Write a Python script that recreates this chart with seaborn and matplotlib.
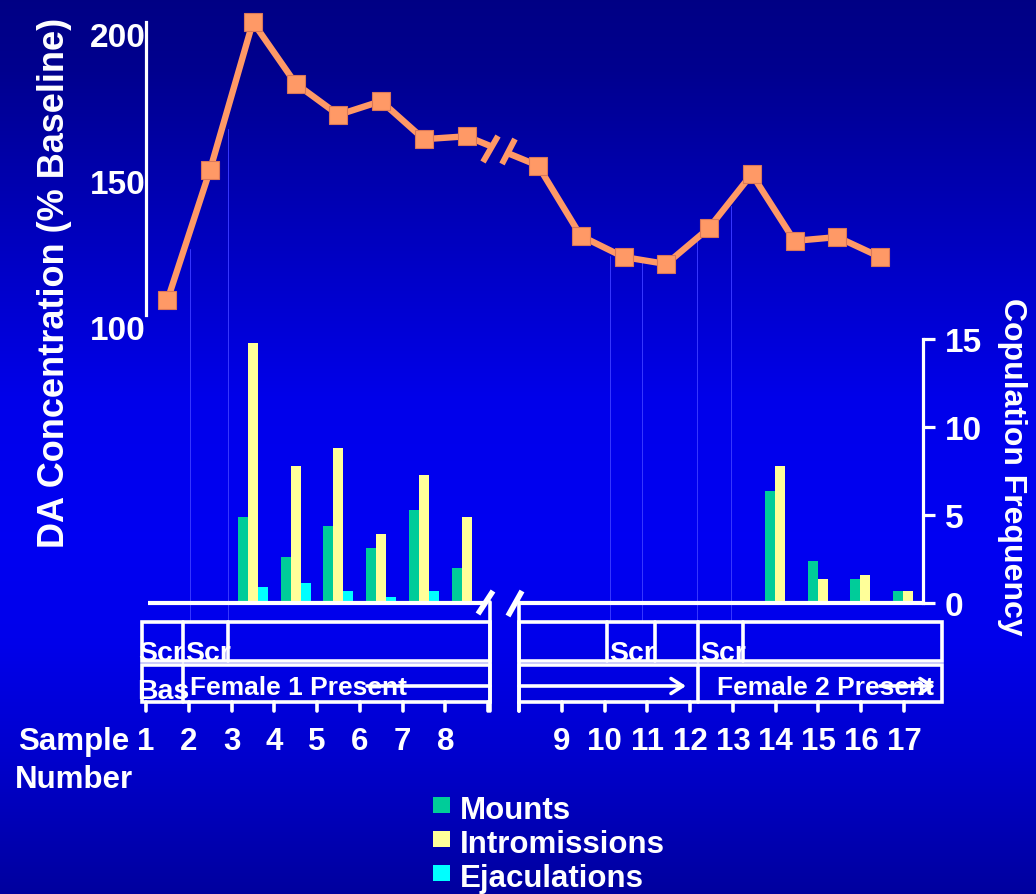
import numpy as np
import matplotlib
matplotlib.use("Agg")
import matplotlib.pyplot as plt
from matplotlib.patches import Rectangle
import seaborn as sns

# -------------------------------------------------------
# Data
# -------------------------------------------------------
samples = list(range(1, 18))
da_pct = [105, 149.6, 200, 179, 168.3, 173, 160, 161, 151, 127, 119.8,
          117.4, 129.7, 148.1, 125.3, 126.6, 119.8]
mounts = [0, 0, 4.9, 2.6, 4.4, 3.1, 5.3, 2.0, 0, 0, 0, 0, 0, 6.35, 2.4, 1.35, 0.7]
intromissions = [0, 0, 14.8, 7.8, 8.8, 3.9, 7.3, 4.9, 0, 0, 0, 0, 0, 7.8, 1.35, 1.6, 0.7]
ejaculations = [0, 0, 0.9, 1.15, 0.7, 0.35, 0.7, 0.1, 0, 0, 0, 0, 0, 0.1, 0, 0, 0]
series_names = ["Mounts", "Intromissions", "Ejaculations"]
series_colors = ["#00CC99", "#FFFF99", "#00FFFF"]
da_ticks = [100, 150, 200]
cop_ticks = [0, 5, 10, 15]

# -------------------------------------------------------
# Layout helpers
# -------------------------------------------------------
W, H = 1036, 895
X0, DX = 146, 42.75               # pixel of x=0, pixels per sample
U0, U1 = -X0 / DX, (W - X0) / DX
GAP = 0.67                        # axis break after sample 8
BAR_SHIFT_R = 0.66                # right-hand bars sit half a step later
TICK_GAP = 0.73


def upx(u):
    return X0 + DX * u


pt_pos = [s - 0.5 + (GAP if s >= 9 else 0) for s in samples]
bar_pos = [p + (BAR_SHIFT_R if s >= 9 else 0) for s, p in zip(samples, pt_pos)]
tick_u = list(range(0, 9)) + [j + TICK_GAP for j in range(8, 18)]
label_u = [s - 1 if s <= 8 else s + TICK_GAP for s in samples]

sns.set_theme(style="white")
plt.rcParams["font.family"] = ["Liberation Sans", "DejaVu Sans"]
plt.rcParams["font.weight"] = "bold"
WHITE = "white"
FS = 22.5
TFS = 24

fig = plt.figure(figsize=(W / 100, H / 100), dpi=100)

# -------------------------------------------------------
# Background gradient
# -------------------------------------------------------
bg = fig.add_axes([0, 0, 1, 1], zorder=0)
bg.set_xlim(0, W)
bg.set_ylim(H, 0)
bg.axis("off")
stops_y = [0, 0.08, 0.3, 0.45, 0.6, 0.72, 0.85, 1.0]
stops_b = [0.52, 0.56, 0.78, 0.92, 0.95, 0.92, 0.8, 0.62]


def bg_colour(ypix):
    return (0, 0, float(np.interp(ypix / H, stops_y, stops_b)))


grad = np.zeros((H, 1, 3))
grad[:, 0, 2] = np.interp(np.linspace(0, 1, H), stops_y, stops_b)
bg.imshow(grad, extent=(0, W, H, 0), aspect="auto", interpolation="bilinear")

# faint divider lines left over from the slide
for x, ytop in [(190, 250), (228, 130), (610, 257), (642, 263), (697, 240), (731, 207)]:
    bg.plot([x, x], [ytop, 623], color=(0.22, 0.22, 1.0), lw=0.7)

# -------------------------------------------------------
# DA concentration line
# -------------------------------------------------------
ax_da = fig.add_axes([0, 1 - 316 / H, 1, 293 / H], zorder=2)
ax_da.patch.set_alpha(0)
sns.lineplot(x=pt_pos, y=da_pct, ax=ax_da, color="#FF9966", lw=4.6,
             marker="s", markersize=13.5, markeredgecolor="#D9775A",
             markeredgewidth=0.8, clip_on=False)
ax_da.set_xlim(U0, U1)
ax_da.set_ylim(100, 200)
for side in ["top", "right", "bottom"]:
    ax_da.spines[side].set_visible(False)
ax_da.spines["left"].set_position(("data", 0))
ax_da.spines["left"].set_color(WHITE)
ax_da.spines["left"].set_linewidth(2.3)
ax_da.set_xticks([])
ax_da.set_yticks(da_ticks)
ax_da.tick_params(axis="y", length=0, pad=0, labelsize=TFS, labelcolor=WHITE)
for lab in ax_da.get_yticklabels():
    lab.set_fontweight("bold")
    lab.set_verticalalignment("top")

# -------------------------------------------------------
# Copulation frequency bars
# -------------------------------------------------------
ax_cop = fig.add_axes([0, 1 - 604 / H, 1, 264 / H], zorder=1)
ax_cop.patch.set_alpha(0)
bw = 0.234
for k, (vals, col) in enumerate(zip([mounts, intromissions, ejaculations], series_colors)):
    ax_cop.bar([p + (k - 1) * bw for p in bar_pos], vals, width=bw, color=col, lw=0)
ax_cop.set_xlim(U0, U1)
ax_cop.set_ylim(0, 15)
for side in ["top", "left", "bottom"]:
    ax_cop.spines[side].set_visible(False)
ax_cop.spines["right"].set_position(("data", (923 - X0) / DX))
ax_cop.spines["right"].set_color(WHITE)
ax_cop.spines["right"].set_linewidth(2.3)
ax_cop.set_xticks([])
ax_cop.yaxis.tick_right()
ax_cop.set_yticks(cop_ticks)
ax_cop.tick_params(axis="y", right=True, left=False, length=8.5, width=2.3,
                   color=WHITE, pad=7, labelsize=TFS, labelcolor=WHITE, direction="out")
for lab in ax_cop.get_yticklabels():
    lab.set_fontweight("bold")

# -------------------------------------------------------
# Overlay: breaks, boxes, labels, legend
# -------------------------------------------------------
ov = fig.add_axes([0, 0, 1, 1], zorder=3)
ov.set_xlim(0, W)
ov.set_ylim(H, 0)
ov.axis("off")
LW = 2.6

# bar baseline with break
ov.plot([148, 485], [604, 604], color=WHITE, lw=3, solid_capstyle="butt")
ov.plot([519, 923], [604, 604], color=WHITE, lw=3, solid_capstyle="butt")
ov.plot([478, 493], [615, 592], color=WHITE, lw=4, solid_capstyle="butt")
ov.plot([508, 522], [617, 592], color=WHITE, lw=4, solid_capstyle="butt")

# break on the DA line
ov.plot([490, 509], [146.5, 154.5], color=bg_colour(150), lw=6.5, solid_capstyle="butt")
ov.plot([483, 498], [163, 137], color="#FF9966", lw=4.3, solid_capstyle="butt")
ov.plot([502, 515], [165, 140], color="#FF9966", lw=4.3, solid_capstyle="butt")


def box(x0, x1, y0, y1):
    ov.add_patch(Rectangle((x0, y0), x1 - x0, y1 - y0, fill=False,
                           ec=WHITE, lw=LW))


def cell_text(txt, x0, x1, y, size=20.5):
    t = ov.text(x0 + 2, y, txt, color=WHITE, fontsize=size, fontweight="bold",
                ha="left", va="center")
    clip = Rectangle((x0 - 8, y - 22), x1 - x0 + 8, 44, transform=ov.transData)
    t.set_clip_path(clip)


# left box (female 1)
box(142, 490, 623, 662)
box(142, 490, 666, 703)
for x in [183, 228]:
    ov.plot([x, x], [623, 662], color=WHITE, lw=LW)
ov.plot([183, 183], [666, 703], color=WHITE, lw=LW)
ov.plot([490, 490], [603, 712], color=WHITE, lw=LW)
cell_text("Scr", 136, 182, 654)
cell_text("Scr", 183, 228, 654)
ov.plot([367, 490], [687, 687], color=WHITE, lw=LW)
ov.text(137, 692, "Bas", color=WHITE, fontsize=20.5, fontweight="bold", ha="left", va="center")
ov.text(190, 688, "Female 1 Present", color=WHITE, fontsize=19, fontweight="bold",
        ha="left", va="center")

# right box (female 2)
box(519, 942, 623, 662)
box(519, 942, 666, 703)
for x in [607, 655, 698, 743]:
    ov.plot([x, x], [623, 662], color=WHITE, lw=LW)
ov.plot([698, 698], [666, 703], color=WHITE, lw=LW)
ov.plot([519, 519], [603, 712], color=WHITE, lw=LW)
cell_text("Scr", 607, 655, 654)
cell_text("Scr", 698, 743, 654)
arrow = dict(arrowstyle="->,head_length=0.7,head_width=0.45", color=WHITE,
             lw=LW, shrinkA=0, shrinkB=0)
ov.annotate("", xy=(686, 687), xytext=(519, 687), arrowprops=arrow)
ov.text(717, 688, "Female 2 Present", color=WHITE, fontsize=19, fontweight="bold",
        ha="left", va="center")
ov.annotate("", xy=(935, 687), xytext=(880, 687), arrowprops=arrow)

# sample ticks and labels
for u in tick_u:
    ov.plot([upx(u), upx(u)], [703, 712], color=WHITE, lw=LW)
for s, u in zip(samples, label_u):
    ov.text(upx(u), 742, str(s), color=WHITE, fontsize=FS, fontweight="bold",
            ha="center", va="center")
ov.text(74, 742, "Sample", color=WHITE, fontsize=FS, fontweight="bold", ha="center", va="center")
ov.text(74, 780, "Number", color=WHITE, fontsize=FS, fontweight="bold", ha="center", va="center")

# axis titles
ov.text(55, 283, "DA Concentration (% Baseline)", color=WHITE, fontsize=26,
        fontweight="bold", rotation=90, ha="center", va="center")
ov.text(1012, 467, "Copulation Frequency", color=WHITE, fontsize=23,
        fontweight="bold", rotation=270, ha="center", va="center")

# legend
for k, (name, col) in enumerate(zip(series_names, series_colors)):
    y = 806 + 34 * k
    ov.add_patch(Rectangle((433, y - 8), 17, 16, color=col, lw=0))
    ov.text(460, y + 5, name, color=WHITE, fontsize=FS, fontweight="bold",
            ha="left", va="center")

fig.savefig("out.png", dpi=100)
